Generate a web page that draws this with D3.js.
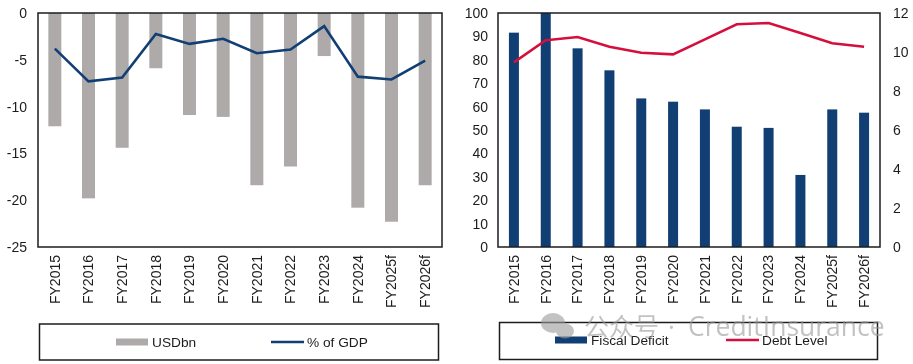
<!DOCTYPE html>
<html>
<head>
<meta charset="utf-8">
<script src="https://cdn.jsdelivr.net/npm/d3@7"></script>
<style>
    html, body { margin: 0; padding: 0; background: #fff; }
    svg { display: block; font-family: "Liberation Sans", Arial, sans-serif; }
    .soft { filter: blur(0.5px); }
</style>
</head>
<body>
<div id="chart"></div>
<script>
const years = ["FY2015", "FY2016", "FY2017", "FY2018", "FY2019", "FY2020", "FY2021", "FY2022", "FY2023", "FY2024", "FY2025f", "FY2026f"];
const usdBn = [-12.1, -19.8, -14.4, -5.9, -10.9, -11.1, -18.4, -16.4, -4.6, -20.8, -22.3, -18.4];
const pctGdp = [-3.8, -7.3, -6.9, -2.25, -3.3, -2.75, -4.3, -3.9, -1.4, -6.8, -7.1, -5.1];
const fiscalDeficit = [91.6, 100, 84.9, 75.5, 63.5, 62.1, 58.8, 51.4, 50.9, 30.8, 58.8, 57.4];
const debtLevel = [9.47, 10.6, 10.77, 10.27, 9.96, 9.88, 10.65, 11.42, 11.49, 10.97, 10.45, 10.27];

const width = 913;
const height = 364;
const grey = "#aeaaaa";
const navy = "#123f73";
const crimson = "#d50f3c";
const ink = "#1c1c1c";

const svg = d3.select("#chart")
    .append("svg")
    .attr("width", width)
    .attr("height", height)
    .attr("viewBox", [0, 0, width, height]);

const root = svg.append("g").attr("class", "soft");

function styleAxis(g, size) {
    g.select(".domain").remove();
    g.selectAll("text").attr("fill", ink).style("font-size", size + "px");
}

function categoryAxis(x, bottom) {
    root.append("g")
        .attr("transform", `translate(0,${bottom})`)
        .call(d3.axisBottom(x).tickSize(0).tickPadding(0))
        .call((g) => styleAxis(g, 14))
        .selectAll("text")
        .attr("text-anchor", "end")
        .attr("dy", "0.35em")
        .attr("transform", "translate(0,8) rotate(-90)");
}

function frame(left, right, top, bottom) {
    root.append("rect")
        .attr("x", left)
        .attr("y", top)
        .attr("width", right - left)
        .attr("height", bottom - top)
        .attr("fill", "none")
        .attr("stroke", ink)
        .attr("stroke-width", 1.5);
}

function legend(box, items) {
    root.append("rect")
        .attr("x", box.x)
        .attr("y", box.y)
        .attr("width", box.w)
        .attr("height", box.h)
        .attr("fill", "none")
        .attr("stroke", ink)
        .attr("stroke-width", 1.5);

    items.forEach((d) => {
        if (d.type === "bar") {
            root.append("rect")
                .attr("x", d.x)
                .attr("y", d.y - 3.5)
                .attr("width", 32)
                .attr("height", 7)
                .attr("fill", d.color);
        } else {
            root.append("line")
                .attr("x1", d.x)
                .attr("x2", d.x + 33)
                .attr("y1", d.y)
                .attr("y2", d.y)
                .attr("stroke", d.color)
                .attr("stroke-width", 2.6);
        }
        root.append("text")
            .attr("x", d.x + 36)
            .attr("y", d.y)
            .attr("dy", "0.35em")
            .attr("fill", ink)
            .style("font-size", "13.7px")
            .text(d.label);
    });
}

// left panel, trade balance
const leftBox = { left: 38, right: 442, top: 13, bottom: 247 };
const xLeft = d3.scaleBand().domain(years).range([leftBox.left, leftBox.right]);
const yLeft = d3.scaleLinear().domain([-25, 0]).range([leftBox.bottom, leftBox.top]);

root.append("g")
    .selectAll("rect")
    .data(years)
    .join("rect")
    .attr("x", (d) => xLeft(d) + xLeft.bandwidth() / 2 - 6.5)
    .attr("y", yLeft(0))
    .attr("width", 13)
    .attr("height", (d, i) => yLeft(usdBn[i]) - yLeft(0))
    .attr("fill", grey);

root.append("path")
    .attr("d", d3.line()
        .x((d, i) => xLeft(years[i]) + xLeft.bandwidth() / 2)
        .y((d) => yLeft(d))(pctGdp))
    .attr("fill", "none")
    .attr("stroke", navy)
    .attr("stroke-width", 2.6);

frame(leftBox.left, leftBox.right, leftBox.top, leftBox.bottom);

root.append("g")
    .attr("transform", `translate(${leftBox.left},0)`)
    .call(d3.axisLeft(yLeft).tickValues([0, -5, -10, -15, -20, -25]).tickSize(0).tickPadding(11).tickFormat((d) => String(d)))
    .call((g) => styleAxis(g, 14));

categoryAxis(xLeft, leftBox.bottom);

legend({ x: 39.5, y: 324, w: 399, h: 36 }, [
    { type: "bar", x: 116, y: 342, color: grey, label: "USDbn" },
    { type: "line", x: 271, y: 342, color: navy, label: "% of GDP" },
]);

// right panel, fiscal deficit and debt
const rightBox = { left: 498, right: 880, top: 13, bottom: 247 };
const xRight = d3.scaleBand().domain(years).range([rightBox.left, rightBox.right]);
const yDeficit = d3.scaleLinear().domain([0, 100]).range([rightBox.bottom, rightBox.top]);
const yDebt = d3.scaleLinear().domain([0, 12]).range([rightBox.bottom, rightBox.top]);

root.append("g")
    .selectAll("rect")
    .data(years)
    .join("rect")
    .attr("x", (d) => xRight(d) + xRight.bandwidth() / 2 - 5)
    .attr("y", (d, i) => yDeficit(fiscalDeficit[i]))
    .attr("width", 10)
    .attr("height", (d, i) => yDeficit(0) - yDeficit(fiscalDeficit[i]))
    .attr("fill", navy);

root.append("path")
    .attr("d", d3.line()
        .x((d, i) => xRight(years[i]) + xRight.bandwidth() / 2)
        .y((d) => yDebt(d))(debtLevel))
    .attr("fill", "none")
    .attr("stroke", crimson)
    .attr("stroke-width", 2.6);

frame(rightBox.left, rightBox.right, rightBox.top, rightBox.bottom);

root.append("g")
    .attr("transform", `translate(${rightBox.left},0)`)
    .call(d3.axisLeft(yDeficit).tickValues(d3.range(0, 101, 10)).tickSize(0).tickPadding(10))
    .call((g) => styleAxis(g, 14));

root.append("g")
    .attr("transform", `translate(${rightBox.right},0)`)
    .call(d3.axisRight(yDebt).tickValues(d3.range(0, 13, 2)).tickSize(0).tickPadding(13))
    .call((g) => styleAxis(g, 14));

categoryAxis(xRight, rightBox.bottom);

legend({ x: 499.5, y: 322.5, w: 378, h: 37 }, [
    { type: "bar", x: 555, y: 340, color: navy, label: "Fiscal Deficit" },
    { type: "line", x: 726, y: 340, color: crimson, label: "Debt Level" },
]);

// watermark over the right legend
const mark = svg.append("g").attr("class", "soft").attr("fill", "#9a9a9a").attr("opacity", 0.6);
mark.append("ellipse").attr("cx", 553).attr("cy", 323).attr("rx", 12).attr("ry", 10);
mark.append("ellipse").attr("cx", 565).attr("cy", 331).attr("rx", 9).attr("ry", 7.5);
mark.append("text")
    .attr("x", 584)
    .attr("y", 336)
    .style("font-family", '"Noto Sans CJK SC", sans-serif')
    .style("font-size", "25px")
    .text("公众号");
mark.append("text")
    .attr("x", 668)
    .attr("y", 336)
    .style("font-family", '"Open Sans", sans-serif')
    .style("font-size", "26px")
    .text("·");
mark.append("text")
    .attr("x", 688)
    .attr("y", 336)
    .style("font-family", '"Open Sans", sans-serif')
    .style("font-size", "26.5px")
    .text("CreditInsurance");
</script>
</body>
</html>
